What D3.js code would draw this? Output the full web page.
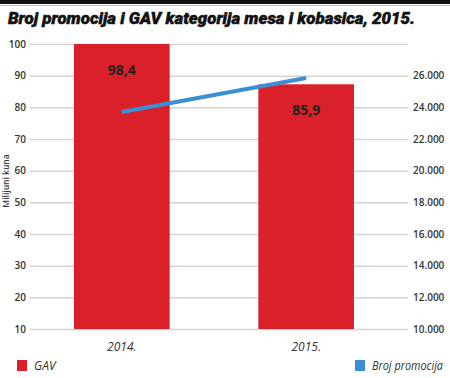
<!DOCTYPE html>
<html>
<head>
<meta charset="utf-8">
<script src="https://cdn.jsdelivr.net/npm/d3@7"></script>
<style>
  body { margin: 0; background: #fff; }
  svg { display: block; }
</style>
</head>
<body>
<div class="canvas"></div>
<script>
// DATA
const years = ['2014.', '2015.'];
const gav = [98.4, 85.9];               // milijuni kuna
const promocije = [23700, 25850];       // broj promocija
const leftTicks = [10, 20, 30, 40, 50, 60, 70, 80, 90, 100];
const rightTicks = [10000, 12000, 14000, 16000, 18000, 20000, 22000, 24000, 26000];

const W = 450, H = 378;
const plotTop = 44, plotBottom = 329, plotLeft = 30, plotRight = 408;

const svg = d3.select('.canvas').append('svg')
    .attr('width', W)
    .attr('height', H);

// header band
svg.append('rect').attr('x', 0).attr('y', 0).attr('width', W).attr('height', 4).attr('fill', '#111');
svg.append('rect').attr('x', 0).attr('y', 5).attr('width', W).attr('height', 1).attr('fill', '#bbb');

svg.append('text')
    .attr('x', 8)
    .attr('y', 24)
    .attr('textLength', 407)
    .attr('lengthAdjust', 'spacingAndGlyphs')
    .style('font-family', 'Roboto, "Open Sans", sans-serif')
    .style('font-weight', 900)
    .style('font-style', 'italic')
    .style('font-size', '17px')
    .style('stroke', '#111')
    .style('stroke-width', 0.5)
    .attr('fill', '#111')
    .text('Broj promocija i GAV kategorija mesa i kobasica, 2015.');

// scales
const x = d3.scaleBand().domain(years).range([74, 354]).paddingInner(0.481).paddingOuter(0);
const yLeft = d3.scaleLinear().domain([10, 100]).range([plotBottom, plotTop]);
// bars are drawn so the largest value reaches the top of the plot
const yBar = d3.scaleLinear().domain([10, d3.max(gav)]).range([plotBottom, plotTop]);
const yRight = d3.scaleLinear().domain([10000, 28000]).range([plotBottom, plotTop]);

const font = '"Open Sans", sans-serif';

// grid + left axis
const gl = svg.append('g')
    .attr('transform', `translate(${plotLeft},0)`)
    .call(d3.axisLeft(yLeft).tickValues(leftTicks).tickSize(-(plotRight - plotLeft)).tickPadding(4));
gl.select('.domain').remove();
gl.selectAll('.tick line').attr('stroke', '#d4d4d4').attr('stroke-width', 1.5);
gl.selectAll('.tick text')
    .attr('fill', '#333')
    .style('font-family', font)
    .style('font-weight', 600)
    .style('font-size', '10px');

// right axis labels
const gr = svg.append('g')
    .attr('transform', `translate(${plotRight},0)`)
    .call(d3.axisRight(yRight).tickValues(rightTicks).tickSize(0).tickPadding(5)
        .tickFormat(d => d3.format(',')(d).replace(/,/g, '.')));
gr.select('.domain').remove();
gr.selectAll('.tick text')
    .attr('fill', '#333')
    .style('font-family', font)
    .style('font-weight', 600)
    .style('font-size', '10px');

// y title
svg.append('text')
    .attr('transform', `translate(9,181) rotate(-90)`)
    .attr('text-anchor', 'middle')
    .style('font-family', font)
    .style('font-weight', 600)
    .style('font-size', '8.5px')
    .attr('fill', '#333')
    .text('Milijuni kuna');

// bars
svg.selectAll('.bar')
    .data(gav)
    .enter().append('rect')
    .attr('class', 'bar')
    .attr('x', (d, i) => x(years[i]))
    .attr('width', x.bandwidth())
    .attr('y', d => yBar(d))
    .attr('height', d => plotBottom - yBar(d))
    .attr('fill', '#da2129');

svg.selectAll('.val')
    .data(gav)
    .enter().append('text')
    .attr('x', (d, i) => x(years[i]) + x.bandwidth() / 2)
    .attr('y', d => yBar(d) + 31)
    .attr('text-anchor', 'middle')
    .style('font-family', font)
    .style('font-weight', 700)
    .style('font-size', '14px')
    .attr('fill', '#222')
    .text(d => d3.format('.1f')(d).replace('.', ','));

// line
const line = d3.line()
    .x((d, i) => x(years[i]) + x.bandwidth() / 2)
    .y(d => yRight(d));

svg.append('path')
    .datum(promocije)
    .attr('d', line)
    .attr('fill', 'none')
    .attr('stroke', '#3b8fd2')
    .attr('stroke-width', 4);

// x labels
svg.selectAll('.xl')
    .data(years)
    .enter().append('text')
    .attr('x', d => x(d) + x.bandwidth() / 2)
    .attr('y', 351)
    .attr('text-anchor', 'middle')
    .style('font-family', font)
    .style('font-style', 'italic')
    .style('font-size', '12px')
    .attr('fill', '#333')
    .text(d => d);

// legend
const legend = [
    { name: 'GAV', color: '#da2129', x: 17 },
    { name: 'Broj promocija', color: '#3b8fd2', x: 355 }
];
legend.forEach(l => {
    svg.append('rect')
        .attr('x', l.x).attr('y', 360)
        .attr('width', 10).attr('height', 11)
        .attr('fill', l.color);
    svg.append('text')
        .attr('x', l.x + 17).attr('y', 370)
        .attr('textLength', l.name.length > 5 ? 71 : null)
        .attr('lengthAdjust', 'spacingAndGlyphs')
        .style('font-family', font)
        .style('font-style', 'italic')
        .style('font-size', '12px')
        .attr('fill', '#333')
        .text(l.name);
});
</script>
</body>
</html>
